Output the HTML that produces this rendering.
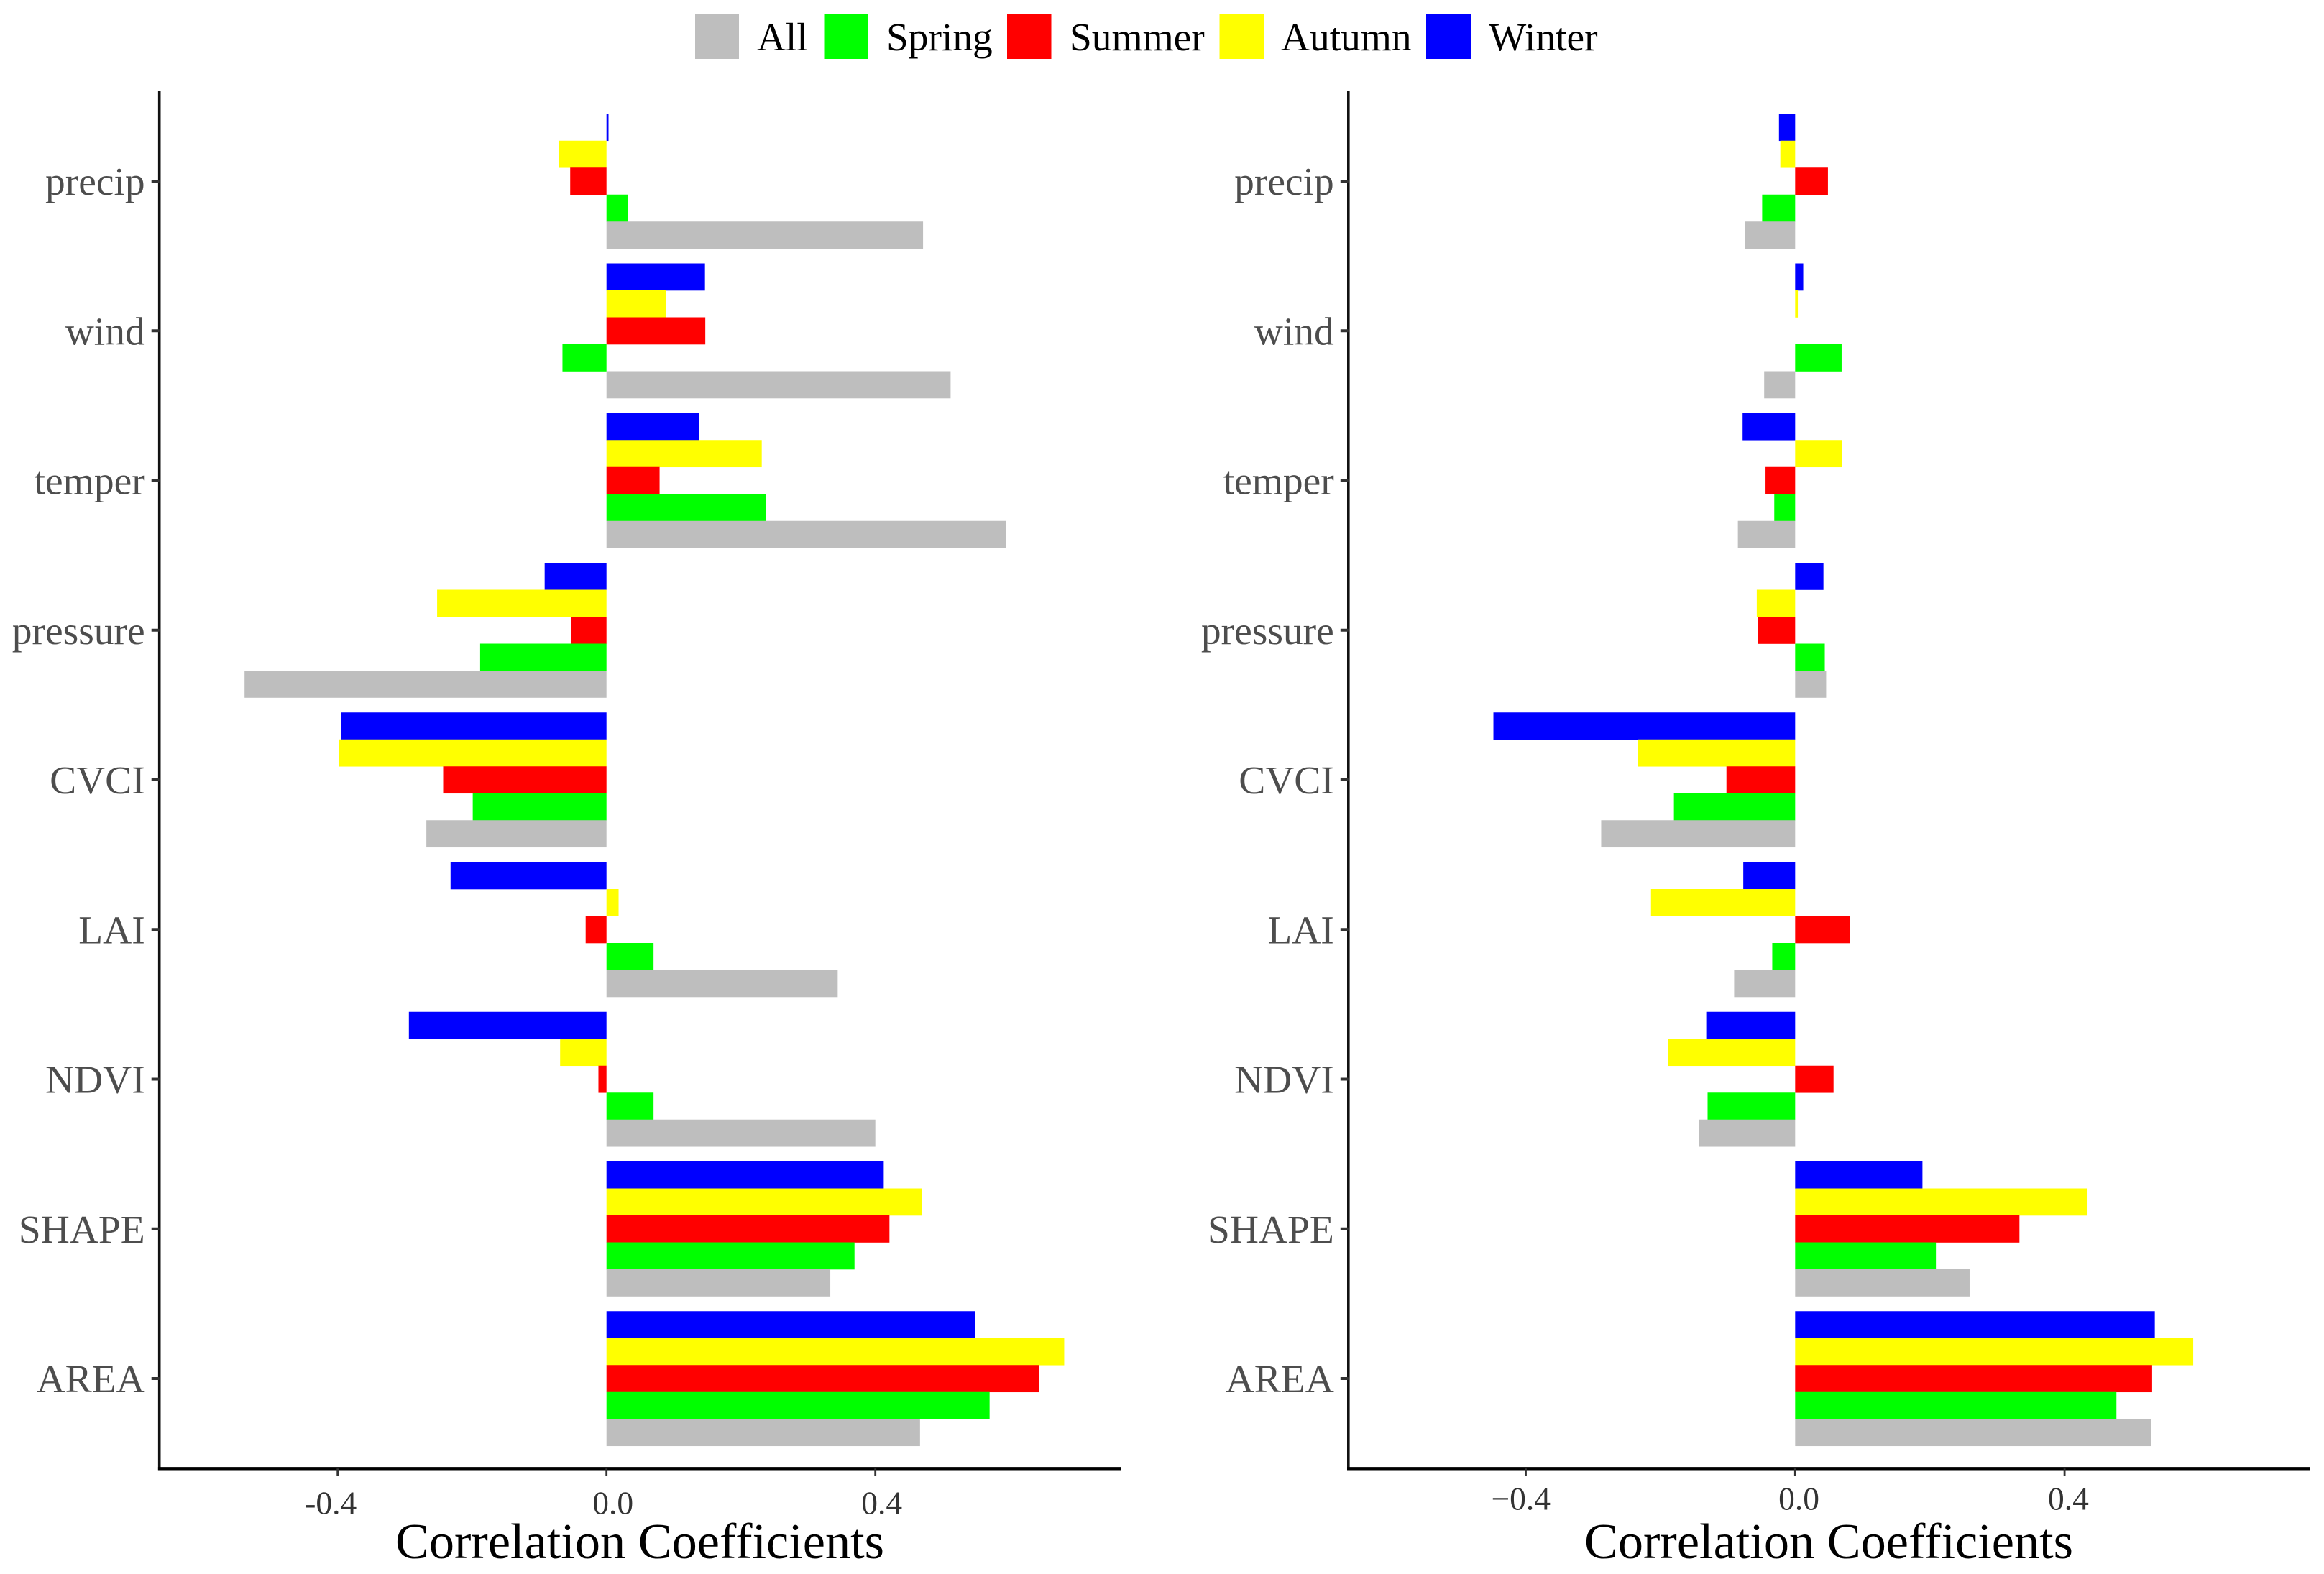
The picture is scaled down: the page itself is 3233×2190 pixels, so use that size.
<!DOCTYPE html>
<html lang="en">
<head>
<meta charset="utf-8">
<title>Correlation Coefficients</title>
<style>
html,body{margin:0;padding:0;background:#fff;}
svg{display:block;font-family:"Liberation Serif",serif;}
</style>
</head>
<body>
<svg id="chart" xmlns="http://www.w3.org/2000/svg" width="3233" height="2190" viewBox="0 0 3233 2190">
  <rect x="0" y="0" width="3233" height="2190" fill="#ffffff"/>
  <g id="legend" font-size="55.4" fill="#000000">
    <rect x="967" y="20" width="61" height="62" fill="#bebebe"/>
    <text x="1053" y="70">All</text>
    <rect x="1146.5" y="20" width="61.5" height="62" fill="#00ff00"/>
    <text x="1233" y="70">Spring</text>
    <rect x="1401" y="20" width="61.5" height="62" fill="#ff0000"/>
    <text x="1488" y="70">Summer</text>
    <rect x="1696.5" y="20" width="61.5" height="62" fill="#ffff00"/>
    <text x="1782" y="70">Autumn</text>
    <rect x="1984" y="20" width="62" height="62" fill="#0000ff"/>
    <text x="2071" y="70">Winter</text>
  </g>
</svg>
<script>
const categories = ['precip','wind','temper','pressure','CVCI','LAI','NDVI','SHAPE','AREA'];
const seriesNames = ['Winter','Autumn','Summer','Spring','All'];
const tickValues = [-0.4, 0, 0.4];
const leftTickLabels = ['-0.4','0.0','0.4'];
const rightTickLabels = ['\u22120.4','0.0','0.4'];

const leftWinter = [0.003,0.1465,0.138,-0.092,-0.395,-0.232,-0.294,0.4125,0.548];
const leftAutumn = [-0.071,0.089,0.231,-0.252,-0.398,0.018,-0.069,0.469,0.681];
const leftSummer = [-0.054,0.147,0.079,-0.053,-0.243,-0.031,-0.012,0.421,0.644];
const leftSpring = [0.032,-0.0655,0.237,-0.188,-0.199,0.070,0.070,0.369,0.570];
const leftAll = [0.471,0.512,0.594,-0.5385,-0.268,0.344,0.400,0.333,0.4665];

const rightWinter = [-0.024,0.012,-0.078,0.042,-0.448,-0.077,-0.132,0.189,0.534];
const rightAutumn = [-0.022,0.004,0.070,-0.057,-0.234,-0.214,-0.189,0.433,0.591];
const rightSummer = [0.0487,0,-0.044,-0.055,-0.102,0.081,0.057,0.333,0.530];
const rightSpring = [-0.049,0.069,-0.031,0.044,-0.180,-0.034,-0.130,0.209,0.477];
const rightAll = [-0.075,-0.046,-0.085,0.046,-0.288,-0.0906,-0.143,0.259,0.528];

const leftSeries = [leftWinter,leftAutumn,leftSummer,leftSpring,leftAll];
const rightSeries = [rightWinter,rightAutumn,rightSummer,rightSpring,rightAll];
const seriesColors = ['#0000ff','#ffff00','#ff0000','#00ff00','#bebebe'];

const NS = 'http://www.w3.org/2000/svg';
const svg = document.getElementById('chart');
const bandStep = 208.25;
const firstBandCenter = 252;
const barHeight = 37.5;
const axisTop = 127;
const axisBaseline = 2043.3;

function yScale(categoryIndex){ return firstBandCenter + categoryIndex * bandStep; }

function make(tag, attrs, parent){
  const el = document.createElementNS(NS, tag);
  Object.keys(attrs).forEach(function(k){ el.setAttribute(k, attrs[k]); });
  parent.appendChild(el);
  return el;
}

function drawPanel(p){
  const xScale = function(v){ return p.zero + v * p.unit; };
  const g = make('g', {}, svg);
  
  

  p.series.forEach(function(values, s){
    values.forEach(function(v, c){
      const x0 = xScale(0), x1 = xScale(v);
      const top = yScale(c) - 2.5 * barHeight + s * barHeight;
      const bar = make('rect', {x: Math.min(x0,x1), y: top, width: Math.abs(x1-x0), height: barHeight + 0.3, fill: seriesColors[s]}, g);
      
      
    });
  });

  const yAxis = make('line', {x1: p.axisX, x2: p.axisX, y1: axisTop, y2: axisBaseline + 2, stroke: '#111', 'stroke-width': 3.6}, g);
  
  

  const xAxis = make('line', {x1: p.axisX - 1.8, x2: p.axisEnd, y1: axisBaseline, y2: axisBaseline, stroke: '#000', 'stroke-width': 4.4}, g);
  
  

  categories.forEach(function(name, c){
    const y = yScale(c);
    const tick = make('line', {x1: p.axisX - 11, x2: p.axisX, y1: y, y2: y, stroke: '#333', 'stroke-width': 4}, g);
    
    
    const label = make('text', {x: p.axisX - 20, y: y + 19, 'text-anchor': 'end', 'font-size': 55.5, fill: '#4d4d4d'}, g);
    label.textContent = name;
    
    
  });

  tickValues.forEach(function(v, i){
    const x = xScale(v);
    const tick = make('line', {x1: x, x2: x, y1: axisBaseline, y2: 2054, stroke: '#333', 'stroke-width': 2.8}, g);
    
    
    const label = make('text', {x: x + (v < 0 ? p.negOffset : p.posOffset), y: p.tickBaseline, 'text-anchor': 'middle', 'font-size': 45.5, fill: '#333'}, g);
    label.textContent = p.tickLabels[i];
    
    
  });

  const title = make('text', {x: p.titleX, y: 2168, 'text-anchor': 'middle', 'font-size': 70.3, fill: '#000'}, g);
  title.textContent = 'Correlation Coefficients';
  
  
}

drawPanel({name:'left', series:leftSeries, tickLabels:leftTickLabels, zero:843.7, unit:935, axisX:221.7, axisEnd:1559, negOffset:-9.4, posOffset:9, tickBaseline:2106.5, titleX:890});
drawPanel({name:'right', series:rightSeries, tickLabels:rightTickLabels, zero:2497.3, unit:937, axisX:1875.8, axisEnd:3213, negOffset:-6.7, posOffset:5.3, tickBaseline:2100.5, titleX:2544});
</script>
</body>
</html>
